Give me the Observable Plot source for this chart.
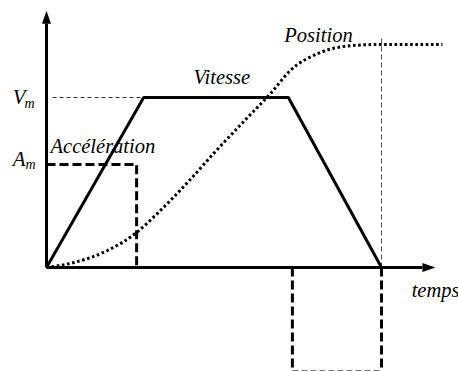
<!DOCTYPE html>
<html>
<head>
<meta charset="utf-8">
<script src="https://cdn.jsdelivr.net/npm/d3@7"></script>
<script src="https://cdn.jsdelivr.net/npm/@observablehq/plot@0.6"></script>
<style>
  html, body { margin: 0; padding: 0; background: #fff; }
  svg text { font-family: "Liberation Serif", "Times New Roman", serif !important; font-style: italic; }
</style>
</head>
<body>
<div id="chart"></div>
<script>
// Velocity trapezoid (time units, velocity in units of Vm)
const velocityT = [0, 2.9, 7.22, 10];
const velocityV = [0, 1, 1, 0];

// Acceleration (positive phase, negative phase), in units relative to Vm
const accelPosT = [0, 2.69, 2.69];
const accelPosA = [0.606, 0.606, 0];
const accelNegLeftT = [7.34, 7.34];
const accelNegRightT = [10, 10];
const accelNegA = [0, -0.606];
const accelNegBottomT = [7.34, 10];
const accelNegBottomA = [-0.606, -0.606];

// Position (S-curve)
const positionT = [0, 0.81, 1.82, 2.69, 3.31, 4.21, 4.99, 6.0, 6.69, 7.28, 8.18, 9.16, 9.97, 11.82];
const positionP = [0, 0.029, 0.1, 0.206, 0.318, 0.5, 0.671, 0.882, 1.024, 1.159, 1.265, 1.306, 1.312, 1.312];

// Guides
const vmGuideT = [0.18, 2.9];
const vmLevel = 1;
const endT = 10;
const endGuideTop = 1.365;

// Axes extents
const xAxisEnd = 11.22, xArrowTip = 11.61;
const yAxisEnd = 1.435, yArrowTip = 1.51;

// Labels
const labelText = ["Accélération", "Vitesse", "Position", "temps"];
const labelT = [0.12, 4.39, 7.10, 10.9];
const labelY = [0.671, 1.082, 1.329, -0.176];

const axisLabelMain = ["V", "A"];
const axisLabelSub = ["m", "m"];
const axisLabelT = [-1.01, -1.01];
const axisLabelSubT = [-0.66, -0.63];
const axisLabelY = [0.959, 0.600];
const axisLabelSubY = [0.941, 0.582];

const zip = (xs, ys) => xs.map((x, i) => ({x, y: ys[i]}));

const arrowSymbol = {
  draw(context) {
    context.moveTo(0, 0);
    context.lineTo(-4.5, 13);
    context.lineTo(4.5, 13);
    context.closePath();
  }
};

const serif = "Liberation Serif";
const lineBase = {x: "x", y: "y", stroke: "black", strokeLinecap: "butt", strokeLinejoin: "miter"};

const chart = Plot.plot({
  width: 458,
  height: 371,
  style: {fontFamily: serif},
  x: {domain: [0, 10], range: [46, 381], axis: null},
  y: {domain: [0, 1], range: [267, 97], axis: null},
  marks: [
    // thin guides
    Plot.line(zip(vmGuideT, [vmLevel, vmLevel]), {...lineBase, stroke: "#333", strokeWidth: 1, strokeDasharray: "4,3"}),
    Plot.line(zip([endT, endT], [0, endGuideTop]), {...lineBase, stroke: "#555", strokeWidth: 1, strokeDasharray: "5,3"}),
    Plot.line(zip(accelNegBottomT, accelNegBottomA), {...lineBase, stroke: "#777", strokeWidth: 1.2, strokeDasharray: "6,3"}),
    // axes
    Plot.line(zip([0, xAxisEnd], [0, 0]), {...lineBase, strokeWidth: 3}),
    Plot.line(zip([0, 0], [0, yAxisEnd]), {...lineBase, strokeWidth: 3}),
    Plot.dot([{x: xArrowTip, y: 0}], {x: "x", y: "y", symbol: arrowSymbol, fill: "black", stroke: "none", rotate: 90}),
    Plot.dot([{x: 0, y: yArrowTip}], {x: "x", y: "y", symbol: arrowSymbol, fill: "black", stroke: "none"}),
    // acceleration
    Plot.line(zip(accelPosT, accelPosA), {...lineBase, strokeWidth: 3, strokeDasharray: "9,4"}),
    Plot.line(zip(accelNegLeftT, accelNegA), {...lineBase, strokeWidth: 3, strokeDasharray: "9,4"}),
    Plot.line(zip(accelNegRightT, accelNegA), {...lineBase, strokeWidth: 3, strokeDasharray: "9,4"}),
    // velocity
    Plot.line(zip(velocityT, velocityV), {...lineBase, strokeWidth: 3}),
    // position
    Plot.line(zip(positionT, positionP), {...lineBase, strokeWidth: 3, strokeDasharray: "2.6,2.6", curve: "monotone-x"}),
    // labels
    Plot.text(labelText.map((t, i) => ({t, x: labelT[i], y: labelY[i]})), {
      x: "x", y: "y", text: "t", textAnchor: "start", lineAnchor: "bottom",
      fontFamily: serif, fontStyle: "italic", fontSize: 20.5, fill: "black"
    }),
    Plot.text(axisLabelMain.map((t, i) => ({t, x: axisLabelT[i], y: axisLabelY[i]})), {
      x: "x", y: "y", text: "t", textAnchor: "start", lineAnchor: "bottom",
      fontFamily: serif, fontStyle: "italic", fontSize: 21, fill: "black"
    }),
    Plot.text(axisLabelSub.map((t, i) => ({t, x: axisLabelSubT[i], y: axisLabelSubY[i]})), {
      x: "x", y: "y", text: "t", textAnchor: "start", lineAnchor: "bottom",
      fontFamily: serif, fontStyle: "italic", fontSize: 14, fill: "black"
    })
  ]
});

document.getElementById("chart").appendChild(chart);
</script>
</body>
</html>
